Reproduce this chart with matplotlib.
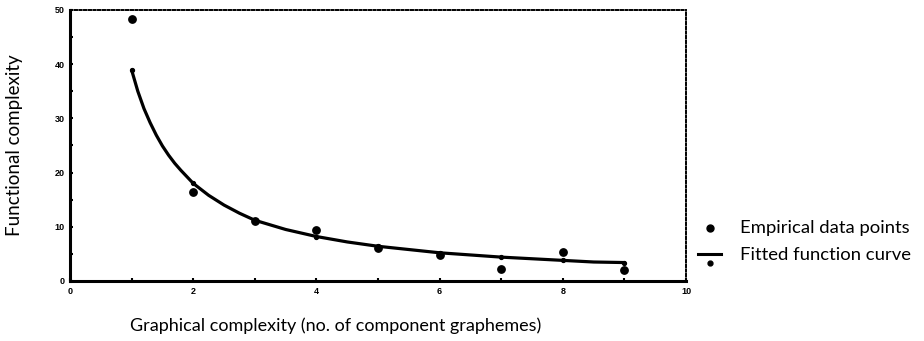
import matplotlib
matplotlib.use("Agg")
import matplotlib.pyplot as plt
from matplotlib.lines import Line2D

# Empirical data points
emp_x = [1, 2, 3, 4, 5, 6, 7, 8, 9]
emp_y = [48.3, 16.4, 11.1, 9.4, 6.1, 4.8, 2.2, 5.3, 2.0]

# Fitted curve, values
fit_x = [1.0, 1.1, 1.2, 1.3, 1.4, 1.5, 1.6, 1.7, 1.8, 1.9, 2.0, 2.25, 2.5, 2.75,
         3.0, 3.5, 4.0, 4.5, 5.0, 5.5, 6.0, 6.5, 7.0, 7.5, 8.0, 8.5, 9.0]
fit_y = [38.9, 35.0, 31.8, 29.2, 26.9, 24.9, 23.2, 21.7, 20.4, 19.2, 18.0, 15.8, 14.0, 12.5,
         11.2, 9.5, 8.2, 7.2, 6.4, 5.8, 5.2, 4.8, 4.4, 4.1, 3.8, 3.5, 3.4]
# small dots drawn on the curve at the integer positions
knot_x = [1, 2, 3, 4, 5, 6, 7, 8, 9]
knot_y = [38.9, 18.0, 11.2, 8.2, 6.4, 5.2, 4.4, 3.8, 3.4]

x_ticks = [0, 2, 4, 6, 8, 10]
y_ticks = [0, 10, 20, 30, 40, 50]

label_font = ["Lato", "DejaVu Sans"]
tick_font = {"family": "Liberation Sans", "size": 6.5, "weight": "bold"}

fig = plt.figure(figsize=(9.24, 3.41), dpi=100)
ax = fig.add_axes([0.0758, 0.176, 0.6667, 0.795])

ax.plot(fit_x, fit_y, color="black", lw=2.3, solid_capstyle="round")
ax.plot(knot_x, knot_y, "o", color="black", ms=2.8)
ax.plot(emp_x, emp_y, "o", color="black", ms=5.3)

ax.set_xlim(0, 10)
ax.set_ylim(0, 50)
ax.set_xticks(x_ticks)
ax.set_yticks(y_ticks)
ax.set_xticks(range(1, 10, 2), minor=True)
ax.set_yticks(range(5, 50, 10), minor=True)
ax.set_xticklabels([str(t) for t in x_ticks], fontdict=tick_font)
ax.set_yticklabels([str(t) for t in y_ticks], fontdict=tick_font)
ax.tick_params(which="both", direction="in", length=2.5, width=1.5, pad=4)

for side in ["left", "bottom"]:
    ax.spines[side].set_linewidth(2.2)
for side in ["top", "right"]:
    ax.spines[side].set_linestyle((0, (1.2, 1.2)))
    ax.spines[side].set_linewidth(1.4)

fig.text(336 / 924, 1 - 326 / 341, "Graphical complexity (no. of component graphemes)",
         ha="center", va="center", fontsize=13, family=label_font)
fig.text(15 / 924, 1 - 145 / 341, "Functional complexity", rotation=90,
         ha="center", va="center", fontsize=13.5, family=label_font)

# hand-made legend to the right of the axes
fig.add_artist(Line2D([710 / 924], [1 - 228 / 341], marker="o", ms=5, color="black"))
fig.add_artist(Line2D([698 / 924, 721 / 924], [1 - 254 / 341] * 2, lw=2.2, color="black"))
fig.add_artist(Line2D([710 / 924], [1 - 263 / 341], marker="o", ms=3.5, color="black"))
fig.text(740 / 924, 1 - 228 / 341, "Empirical data points", ha="left", va="center",
         fontsize=13.3, family=label_font)
fig.text(740 / 924, 1 - 255 / 341, "Fitted function curve", ha="left", va="center",
         fontsize=13.3, family=label_font)

fig.savefig("out.png", dpi=100)
